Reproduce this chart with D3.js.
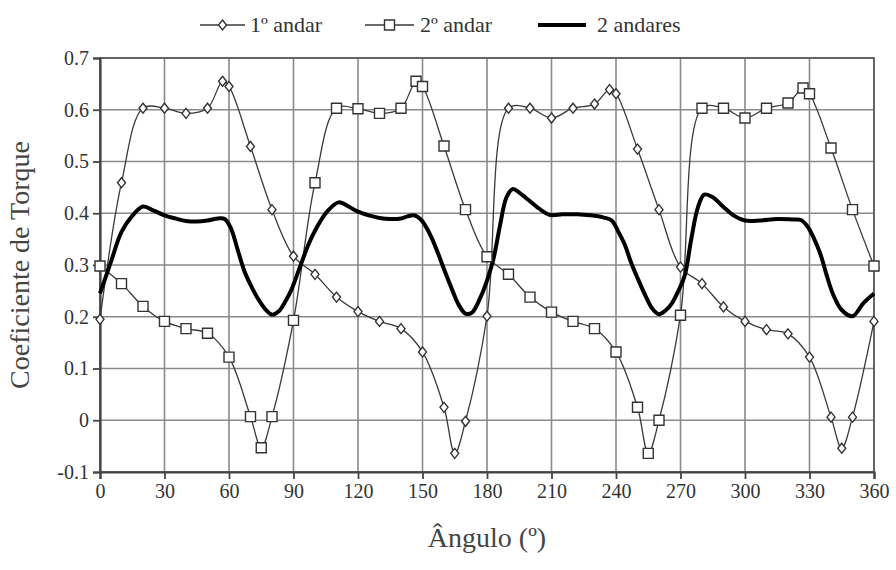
<!DOCTYPE html>
<html>
<head>
<meta charset="utf-8">
<script src="https://cdn.jsdelivr.net/npm/d3@7"></script>
<style>
  body { margin: 0; background: #fff; }
  text { font-family: "Liberation Serif", "DejaVu Serif", serif; fill: #333; }
</style>
</head>
<body>
<div id="chart"></div>
<script>
/// Data ///
var xTicks = [0, 30, 60, 90, 120, 150, 180, 210, 240, 270, 300, 330, 360];
var yTicks = [-0.1, 0, 0.1, 0.2, 0.3, 0.4, 0.5, 0.6, 0.7];
var yTickLabels = ["-0.1", "0", "0.1", "0.2", "0.3", "0.4", "0.5", "0.6", "0.7"];
var seriesNames = ["1º andar", "2º andar", "2 andares"];

// 1º andar (diamonds)
var andar1X = [0, 10, 20, 30, 40, 50, 57, 60, 70, 80, 90, 100, 110, 120, 130, 140, 150, 160, 165, 170,
  180, 190, 200, 210, 220, 230, 237, 240, 250, 260, 270, 280, 290, 300, 310, 320, 330, 340, 345, 350, 360];
var andar1Y = [0.195, 0.459, 0.603, 0.603, 0.593, 0.603, 0.655, 0.645, 0.529, 0.407,
  0.317, 0.282, 0.238, 0.210, 0.191, 0.177, 0.132, 0.025, -0.064, -0.002,
  0.201, 0.603, 0.603, 0.584, 0.603, 0.611, 0.639, 0.631, 0.524, 0.407,
  0.296, 0.264, 0.219, 0.191, 0.175, 0.167, 0.122, 0.006, -0.054, 0.006, 0.191];

// 2º andar (squares)
var andar2X = [0, 10, 20, 30, 40, 50, 60, 70, 75, 80, 90, 100, 110, 120, 130, 140, 147, 150, 160, 170,
  180, 190, 200, 210, 220, 230, 240, 250, 255, 260, 270, 280, 290, 300, 310, 320, 327, 330, 340, 350, 360];
var andar2Y = [0.298, 0.264, 0.220, 0.191, 0.177, 0.168, 0.122, 0.007, -0.053, 0.007,
  0.193, 0.459, 0.603, 0.602, 0.593, 0.603, 0.655, 0.645, 0.530, 0.407,
  0.316, 0.282, 0.238, 0.209, 0.191, 0.177, 0.132, 0.025, -0.064, 0.000,
  0.203, 0.603, 0.603, 0.584, 0.603, 0.613, 0.642, 0.631, 0.526, 0.407, 0.298];

// 2 andares (thick line)
var totalX = [0, 5, 10, 15, 20, 25, 30, 35, 40, 45, 50, 55, 58, 61, 64, 67, 70, 73, 77, 80, 83, 86, 89,
  93, 97, 101, 106, 111, 116, 120, 125, 130, 135, 140, 143, 146, 149, 151, 154, 157, 160, 164, 167, 170,
  173, 177, 180, 183, 186, 189, 192, 195, 198, 203, 209, 215, 222, 228, 234, 238, 241, 244, 247, 250,
  254, 257, 260, 263, 266, 269, 272, 275, 278, 281, 285, 290, 295, 300, 307, 315, 322, 326, 329, 332,
  335, 338, 341, 345, 350, 355, 360];
var totalY = [0.245, 0.305, 0.364, 0.395, 0.413, 0.405, 0.396, 0.390, 0.385, 0.384, 0.386, 0.390, 0.389,
  0.370, 0.330, 0.290, 0.262, 0.238, 0.214, 0.204, 0.210, 0.228, 0.252,
  0.296, 0.340, 0.374, 0.405, 0.421, 0.412, 0.403, 0.396, 0.391, 0.389, 0.390, 0.394, 0.396, 0.389,
  0.378, 0.355, 0.325, 0.292, 0.250, 0.222, 0.206,
  0.208, 0.238, 0.270, 0.312, 0.375, 0.430, 0.447, 0.440, 0.430, 0.413, 0.397, 0.398, 0.398, 0.396,
  0.392, 0.386, 0.365, 0.340, 0.305, 0.275,
  0.238, 0.215, 0.205, 0.212, 0.226, 0.250, 0.280, 0.350, 0.410, 0.436, 0.431, 0.412, 0.395, 0.386,
  0.386, 0.389, 0.388, 0.387, 0.375, 0.352,
  0.322, 0.280, 0.243, 0.213, 0.201, 0.226, 0.245];

/// SVG area ///
var svgWidth = 896;
var svgHeight = 570;
var margin = { top: 58, right: 22, bottom: 98, left: 100 };
var width = svgWidth - margin.left - margin.right;
var height = svgHeight - margin.top - margin.bottom;

var svg = d3.select("#chart")
  .append("svg")
  .attr("width", svgWidth)
  .attr("height", svgHeight);

var g = svg.append("g")
  .attr("transform", `translate(${margin.left}, ${margin.top})`);

/// Scales ///
var x = d3.scaleLinear().domain([0, 360]).range([0, width]);
var y = d3.scaleLinear().domain([-0.1, 0.7]).range([height, 0]);

/// Grid ///
g.append("g").selectAll("line").data(yTicks).enter().append("line")
  .attr("x1", 0).attr("x2", width)
  .attr("y1", d => y(d)).attr("y2", d => y(d))
  .style("stroke", "#8a8a8a").style("stroke-width", 1.6);

g.append("g").selectAll("line").data(xTicks).enter().append("line")
  .attr("y1", 0).attr("y2", height)
  .attr("x1", d => x(d)).attr("x2", d => x(d))
  .style("stroke", "#8a8a8a").style("stroke-width", 1.6);

g.append("rect")
  .attr("width", width).attr("height", height)
  .style("fill", "none").style("stroke", "#555").style("stroke-width", 1.6);

/// Axes ///
var leftAxis = d3.axisLeft(y).tickValues(yTicks).tickSize(7).tickPadding(4)
  .tickFormat((d, i) => yTickLabels[i]);
var bottomAxis = d3.axisBottom(x).tickValues(xTicks).tickSize(7).tickPadding(5);

var ya = g.append("g").call(leftAxis);
var xa = g.append("g").attr("transform", `translate(0, ${height})`).call(bottomAxis);

[ya, xa].forEach(function (a) {
  a.select(".domain").style("stroke", "#444").style("stroke-width", 2.2);
  a.selectAll(".tick line").style("stroke", "#444").style("stroke-width", 1.8);
  a.selectAll(".tick text").style("font-size", "20px").style("fill", "#333")
    .style("font-family", "Liberation Serif");
});

/// Axis titles ///
g.append("text")
  .attr("transform", `translate(-71, ${height / 2}) rotate(-90)`)
  .attr("text-anchor", "middle")
  .style("font-size", "28px").style("fill", "#444")
  .text("Coeficiente de Torque");

g.append("text")
  .attr("x", width / 2).attr("y", height + 75)
  .attr("text-anchor", "middle")
  .style("font-size", "28px").style("fill", "#444")
  .text("Ângulo (º)");

/// Lines ///
var line = d3.line()
  .x(d => x(d[0])).y(d => y(d[1]))
  .curve(d3.curveCatmullRom.alpha(0.5));

var s1 = andar1X.map((v, i) => [v, andar1Y[i]]);
var s2 = andar2X.map((v, i) => [v, andar2Y[i]]);
var s3 = totalX.map((v, i) => [v, totalY[i]]);

g.append("path").datum(s1).attr("d", line)
  .style("fill", "none").style("stroke", "#3a3a3a").style("stroke-width", 1.3);
g.append("path").datum(s2).attr("d", line)
  .style("fill", "none").style("stroke", "#3a3a3a").style("stroke-width", 1.3);
g.append("path").datum(s3).attr("d", line)
  .style("fill", "none").style("stroke", "#000").style("stroke-width", 4);

/// Markers ///
var diamond = "M0,-5L4,0L0,5L-4,0Z";
var square = "M-5,-5H5V5H-5Z";

g.append("g").selectAll("path").data(s1).enter().append("path")
  .attr("d", diamond)
  .attr("transform", d => `translate(${x(d[0])}, ${y(d[1])})`)
  .style("fill", "#fff").style("stroke", "#333").style("stroke-width", 1.4);

g.append("g").selectAll("path").data(s2).enter().append("path")
  .attr("d", square)
  .attr("transform", d => `translate(${x(d[0])}, ${y(d[1])})`)
  .style("fill", "#fff").style("stroke", "#333").style("stroke-width", 1.4);

/// Legend ///
var legend = svg.append("g");
var legendItems = [
  { x1: 200, x2: 245, text: 250, marker: diamond, width: 1.3 },
  { x1: 365, x2: 414, text: 420, marker: square, width: 1.3 },
  { x1: 538, x2: 586, text: 597, marker: null, width: 4 }
];
legendItems.forEach(function (d, i) {
  legend.append("line")
    .attr("x1", d.x1).attr("x2", d.x2).attr("y1", 25).attr("y2", 25)
    .style("stroke", i < 2 ? "#3a3a3a" : "#000").style("stroke-width", d.width);
  if (d.marker) {
    legend.append("path").attr("d", d.marker)
      .attr("transform", `translate(${(d.x1 + d.x2) / 2}, 25)`)
      .style("fill", "#fff").style("stroke", "#333").style("stroke-width", 1.4);
  }
  legend.append("text")
    .attr("x", d.text).attr("y", 32)
    .style("font-size", "22px").style("fill", "#333")
    .text(seriesNames[i]);
});
</script>
</body>
</html>
